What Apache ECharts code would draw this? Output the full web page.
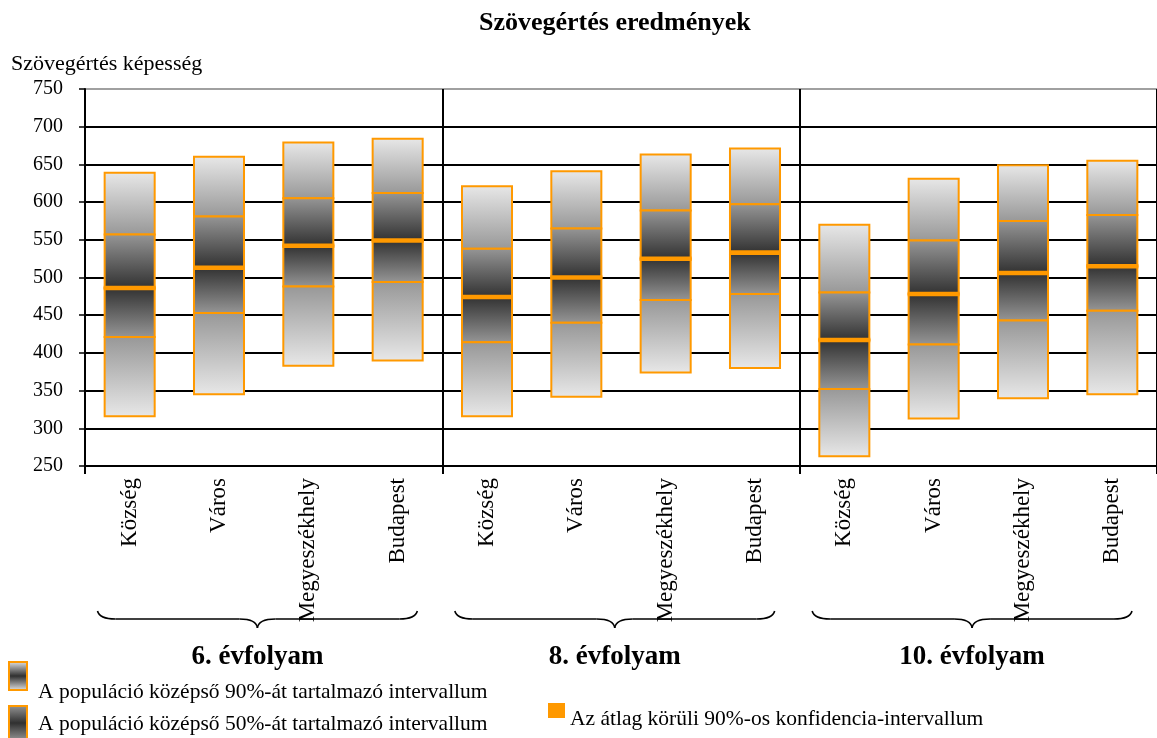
<!DOCTYPE html>
<html>
<head>
<meta charset="utf-8">
<script src="https://cdn.jsdelivr.net/npm/echarts@6/dist/echarts.min.js"></script>
<style>
  html, body { margin: 0; padding: 0; background: #fff; }
  #chart { width: 1157px; height: 738px; }
</style>
</head>
<body>
<div id="chart"></div>
<script>
const FONT = '"Liberation Serif", "DejaVu Serif", serif'
const ORANGE = '#ff9900'

// kategóriák (3 évfolyam x 4 településtípus)
const categories = [
  'Község', 'Város', 'Megyeszékhely', 'Budapest',
  'Község', 'Város', 'Megyeszékhely', 'Budapest',
  'Község', 'Város', 'Megyeszékhely', 'Budapest'
]
const groups = ['6. évfolyam', '8. évfolyam', '10. évfolyam']

// percentilisek
const p5  = [316, 345, 383, 390, 316, 342, 374, 380, 263, 313, 340, 345]
const p25 = [421, 453, 488, 494, 414, 440, 470, 478, 352, 411, 443, 456]
const mean = [486, 513, 542, 549, 474, 500, 525, 533, 417, 478, 506, 515]
const p75 = [557, 581, 605, 612, 538, 565, 589, 597, 480, 549, 575, 583]
const p95 = [639, 660, 679, 684, 621, 641, 663, 671, 570, 631, 649, 655]
// átlag körüli konfidencia-intervallum
const ciLow  = [483, 510, 539, 546, 471, 497, 522, 530, 414, 475, 503, 512]
const ciHigh = [489, 516, 545, 552, 477, 503, 528, 536, 420, 481, 509, 518]

const yTicks = [250, 300, 350, 400, 450, 500, 550, 600, 650, 700, 750]

const LIGHT = '#e8e8e8'
const MID = '#979797'
const DARK = '#303030'

function grad(top, bottom) {
  return new echarts.graphic.LinearGradient(0, 0, 0, 1, [
    { offset: 0, color: top },
    { offset: 1, color: bottom }
  ])
}

function seg(x, w, yTop, yBot, topColor, botColor) {
  return {
    type: 'rect',
    shape: { x: x, y: yTop, width: w, height: yBot - yTop },
    style: { fill: grad(topColor, botColor), stroke: ORANGE, lineWidth: 2 }
  }
}

function renderBox(params, api) {
  const i = api.value(0)
  const w = api.size([1, 0])[0] * 0.56
  const cx = api.coord([i, 0])[0]
  const x = cx - w / 2
  const y = v => api.coord([i, v])[1]
  const yb = y(api.value(1)), y25 = y(api.value(2)), ym = y(api.value(3))
  const y75 = y(api.value(4)), yt = y(api.value(5))
  const ciT = y(api.value(7)), ciB = y(api.value(6))
  return {
    type: 'group',
    children: [
      seg(x, w, yt, y75, LIGHT, MID),
      seg(x, w, y75, ym, MID, DARK),
      seg(x, w, ym, y25, DARK, MID),
      seg(x, w, y25, yb, MID, LIGHT),
      {
        type: 'rect',
        shape: { x: x - 1, y: ciT, width: w + 2, height: Math.max(ciB - ciT, 4) },
        style: { fill: ORANGE }
      }
    ]
  }
}

const boxData = categories.map((c, i) => [i, p5[i], p25[i], mean[i], p75[i], p95[i], ciLow[i], ciHigh[i]])

const chart = echarts.init(document.getElementById('chart'))

const gridColors = yTicks.map(v => v === 750 ? '#a0a0a0' : '#000')
const groupStart = (idx) => idx % 4 === 0

chart.setOption({
  animation: false,
  backgroundColor: '#fff',
  title: [
    {
      text: 'Szövegértés eredmények',
      left: 474, top: 5,
      textStyle: { fontFamily: FONT, fontSize: 26, fontWeight: 'bold', color: '#000' }
    },
    {
      text: 'Szövegértés képesség',
      left: 6, top: 48,
      textStyle: { fontFamily: FONT, fontSize: 22, fontWeight: 'normal', color: '#000' }
    }
  ],
  grid: { left: 85, right: -3, top: 89, bottom: 272 },
  xAxis: {
    type: 'category',
    data: categories,
    axisLine: { lineStyle: { color: '#000', width: 2 } },
    axisTick: { show: true, interval: groupStart, length: 8, lineStyle: { color: '#000', width: 2 } },
    axisLabel: {
      rotate: 90, interval: 0, margin: 12,
      fontFamily: FONT, fontSize: 23, color: '#000'
    },
    splitLine: {
      show: true,
      interval: groupStart,
      lineStyle: { color: '#000', width: 2 }
    }
  },
  yAxis: {
    type: 'value',
    min: 250, max: 750, interval: 50,
    axisLine: { show: true, lineStyle: { color: '#000', width: 2 } },
    axisTick: { show: true, length: 6, lineStyle: { color: '#000', width: 1.5 } },
    axisLabel: { margin: 22, fontFamily: FONT, fontSize: 20, color: '#000' },
    splitLine: { lineStyle: { color: gridColors, width: 2 } }
  },
  series: [{
    type: 'custom',
    renderItem: renderBox,
    encode: { x: 0, y: [1, 5] },
    data: boxData,
    z: 5
  }]
})

// kapcsos zárójel: negyedívek + egyenesek
function brace(x0, x1, yTop) {
  const cx = (x0 + x1) / 2
  const y1 = yTop + 8
  const y2 = yTop + 17
  const r = 18
  const st = { stroke: '#000', lineWidth: 1.6, fill: null }
  const curve = (a, b, c, d, e, f) => ({
    type: 'bezierCurve',
    shape: { x1: a, y1: b, cpx1: c, cpy1: d, x2: e, y2: f },
    style: st
  })
  const line = (a, b, c, d) => ({
    type: 'line',
    shape: { x1: a, y1: b, x2: c, y2: d },
    style: st
  })
  return {
    type: 'group',
    children: [
      curve(x0, yTop, x0 + 2, y1, x0 + r, y1),
      line(x0 + r, y1, cx - r, y1),
      curve(cx - r, y1, cx - 1, y1, cx, y2),
      curve(cx, y2, cx + 1, y1, cx + r, y1),
      line(cx + r, y1, x1 - r, y1),
      curve(x1 - r, y1, x1 - 2, y1, x1, yTop)
    ]
  }
}

const catW = chart.convertToPixel({ xAxisIndex: 0 }, 1) - chart.convertToPixel({ xAxisIndex: 0 }, 0)
const graphics = []
groups.forEach((g, k) => {
  const first = chart.convertToPixel({ xAxisIndex: 0 }, k * 4)
  const last = chart.convertToPixel({ xAxisIndex: 0 }, k * 4 + 3)
  const x0 = first - catW * 0.36
  const x1 = last + catW * 0.22
  graphics.push(brace(x0, x1, 611))
  graphics.push({
    type: 'text',
    x: (x0 + x1) / 2, y: 644,
    style: {
      text: g, align: 'center',
      font: 'bold 27px ' + FONT, fill: '#000'
    }
  })
})

const legendFont = '21.5px ' + FONT
graphics.push(
  {
    type: 'rect',
    shape: { x: 9, y: 662, width: 18, height: 28 },
    style: {
      stroke: ORANGE, lineWidth: 2,
      fill: new echarts.graphic.LinearGradient(0, 0, 0, 1, [
        { offset: 0, color: LIGHT }, { offset: 0.5, color: DARK }, { offset: 1, color: LIGHT }
      ])
    }
  },
  {
    type: 'text', x: 38, y: 681,
    style: { text: 'A populáció középső 90%-át tartalmazó intervallum', font: legendFont, fill: '#000' }
  },
  {
    type: 'rect',
    shape: { x: 9, y: 706, width: 18, height: 34 },
    style: {
      stroke: ORANGE, lineWidth: 2,
      fill: new echarts.graphic.LinearGradient(0, 0, 0, 1, [
        { offset: 0, color: MID }, { offset: 0.5, color: DARK }, { offset: 1, color: MID }
      ])
    }
  },
  {
    type: 'text', x: 38, y: 713,
    style: { text: 'A populáció középső 50%-át tartalmazó intervallum', font: legendFont, fill: '#000' }
  },
  {
    type: 'rect',
    shape: { x: 548, y: 703, width: 17, height: 15 },
    style: { fill: ORANGE }
  },
  {
    type: 'text', x: 570, y: 708,
    style: { text: 'Az átlag körüli 90%-os konfidencia-intervallum', font: legendFont, fill: '#000' }
  }
)

chart.setOption({ graphic: graphics })
</script>
</body>
</html>
